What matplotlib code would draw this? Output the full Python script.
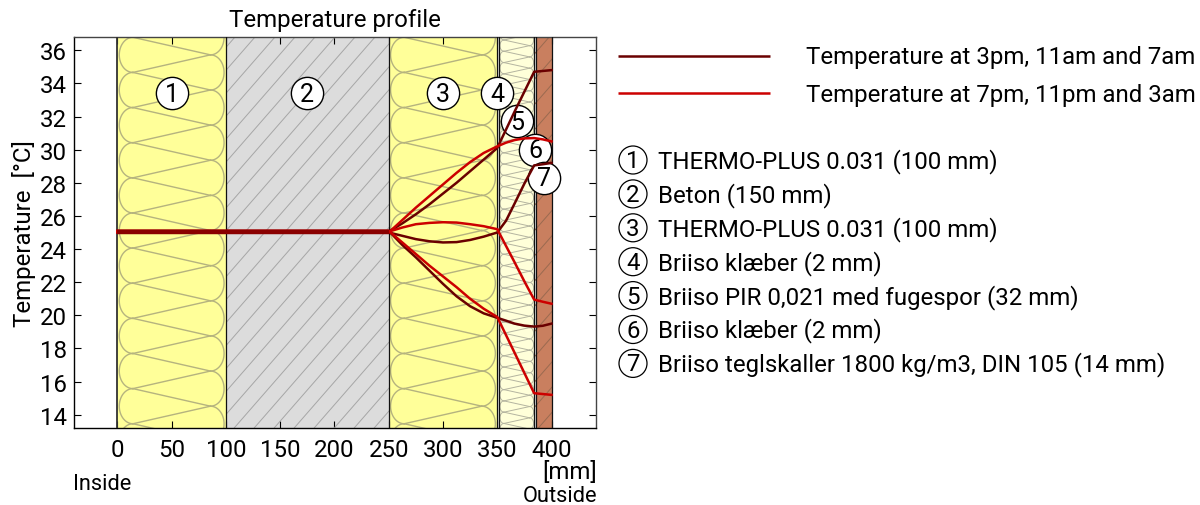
import numpy as np
import matplotlib
matplotlib.use("Agg")
import matplotlib.pyplot as plt
from matplotlib.patches import Rectangle, Circle

plt.rcParams['font.family'] = ['Roboto', 'DejaVu Sans']

# layers, mm
layer_edges = [0, 100, 250, 350, 352, 384, 386, 400]
layer_colors = ['#ffff99', '#dcdcdc', '#ffff99', '#e6e6e6', '#ffffd9', '#e6e6e6', '#c97f5f']
layer_names = ['THERMO-PLUS 0.031 (100 mm)', 'Beton (150 mm)', 'THERMO-PLUS 0.031 (100 mm)',
               'Briiso klæber (2 mm)', 'Briiso PIR 0,021 med fugespor (32 mm)',
               'Briiso klæber (2 mm)', 'Briiso teglskaller 1800 kg/m3, DIN 105 (14 mm)']

# temperature curves
x_pos = [0, 250, 262.5, 275, 287.5, 300, 312.5, 325, 337.5, 350, 358, 366, 375, 384, 392, 400]
dark_1 = [25.05, 25.05, 25.55, 26.1, 26.7, 27.35, 28.0, 28.7, 29.4, 30.1, 31.2, 32.3, 33.5, 34.7, 34.75, 34.8]
dark_2 = [25.0, 25.0, 24.8, 24.6, 24.47, 24.4, 24.42, 24.55, 24.75, 25.0, 25.7, 26.75, 27.95, 29.05, 29.12, 29.2]
dark_3 = [25.1, 25.1, 24.25, 23.5, 22.7, 21.9, 21.15, 20.55, 20.12, 19.85, 19.68, 19.5, 19.38, 19.32, 19.37, 19.5]
red_1 = [25.0, 25.0, 25.75, 26.5, 27.2, 27.9, 28.6, 29.25, 29.8, 30.2, 30.42, 30.58, 30.68, 30.7, 30.62, 30.5]
red_2 = [25.05, 25.05, 25.3, 25.5, 25.58, 25.62, 25.6, 25.5, 25.38, 25.2, 24.2, 23.2, 22.05, 20.95, 20.82, 20.7]
red_3 = [25.1, 25.1, 24.4, 23.7, 23.0, 22.35, 21.7, 21.0, 20.4, 19.9, 18.82, 17.74, 16.52, 15.3, 15.25, 15.2]

# circled numbers in the chart
circle_x = [50, 175, 300, 350, 368, 385, 393]
circle_y = [33.4, 33.4, 33.4, 33.4, 31.7, 30.0, 28.3]

y_ticks = list(range(14, 38, 2))
x_ticks = [0, 50, 100, 150, 200, 250, 300, 350, 400]

fig = plt.figure(figsize=(12, 5.06), dpi=100)
ax = fig.add_axes([74 / 1200, 1 - 429 / 506, 522 / 1200, 391 / 506])
ax.set_xlim(-40, 441)
ax.set_ylim(13.2, 36.8)
ylo, yhi = 13.2, 36.8
px_per_mm = 1.085
px_per_deg = 16.6


def insulation(a, b, period_px, inset_px, phase_px, color, lw):
    # loops with crossing diagonals, drawn between the layer edges
    period = period_px / px_per_deg
    inset = inset_px / px_per_mm
    rect = Rectangle((a, ylo), b - a, yhi - ylo, transform=ax.transData)
    top = yhi - phase_px / px_per_deg
    t = np.linspace(-np.pi / 2, np.pi / 2, 30)
    n = int((yhi - ylo) / period) + 3
    for i in range(-1, n):
        y_l = top - i * period
        y_r = y_l - period / 2
        for xn, ys, sign in ((a + inset, y_l, -1), (b - inset, y_r, 1)):
            line, = ax.plot(xn + sign * inset * 0.88 * np.cos(t), ys - period / 2 + period / 2 * np.sin(t),
                            color=color, lw=lw, zorder=2)
            line.set_clip_path(rect)
        for y2 in (y_r, y_r + period):
            line, = ax.plot([a + inset, b - inset], [y_l, y2], color=color, lw=lw, zorder=2)
            line.set_clip_path(rect)


def hatch(a, b, color, spacing_px=20):
    # diagonal lines, clipped to the layer
    rect = Rectangle((a, ylo), b - a, yhi - ylo, transform=ax.transData)
    h = (yhi - ylo) * px_per_deg
    for off in np.arange(-h, (b - a) * px_per_mm + 1, spacing_px):
        line, = ax.plot([a + off / px_per_mm, a + (off + h * 0.87) / px_per_mm], [ylo, yhi],
                        color=color, lw=0.7, zorder=2)
        line.set_clip_path(rect)


for i in range(7):
    ax.axvspan(layer_edges[i], layer_edges[i + 1], color=layer_colors[i], lw=0, zorder=1)

insulation(0, 100, 35.2, 15.5, 0.3, '#b5b37f', 1.0)
insulation(250, 350, 35.2, 15.5, 0.3, '#b5b37f', 1.0)
insulation(352, 384, 11.3, 4.5, 3, '#b4b4a0', 0.7)
hatch(100, 250, '#a6a6a6')
hatch(384, 400, '#9a6a50', 22)

for e in layer_edges:
    ax.axvline(e, color='#333333' if e == 0 else '#111111', lw=1.3 if e == 0 else 0.9, zorder=3)

ax.scatter(circle_x, circle_y, s=540, facecolor='white', edgecolor='black', linewidth=1.0, zorder=4)
for i in range(7):
    ax.text(circle_x[i], circle_y[i] - 0.03, str(i + 1), ha='center', va='center', fontsize=18, zorder=5)

for vals in (dark_1, dark_2, dark_3):
    ax.plot(x_pos, vals, color='#6a0000', lw=1.8, zorder=6)
for vals in (red_1, red_2, red_3):
    ax.plot(x_pos, vals, color='#cc0000', lw=1.8, zorder=7)
ax.plot([0, 250], [25.05, 25.05], color='#8a0000', lw=3.2, solid_capstyle='butt', zorder=8)

ax.set_xticks(x_ticks)
ax.set_yticks(y_ticks)
ax.tick_params(direction='in', top=True, right=True, length=5, width=0.8, labelsize=17.3, pad=7)
ax.tick_params(axis='y', pad=5)
ax.spines['left'].set_color('black')
ax.spines['bottom'].set_color('black')
ax.spines['top'].set_color('#444444')
ax.spines['right'].set_color('#444444')
for s in ax.spines.values():
    s.set_linewidth(1.0)
ax.set_ylabel('Temperature  [°C]', fontsize=17.3, labelpad=3)
ax.set_title('Temperature profile', fontsize=17.3, pad=8)

# text and legend in pixel positions
ov = fig.add_axes([0, 0, 1, 1], facecolor='none')
ov.set_xlim(0, 1200)
ov.set_ylim(506, 0)
ov.axis('off')
ov.text(102, 485, 'Inside', ha='center', va='center', fontsize=15.7)
ov.text(597, 473, '[mm]', ha='right', va='center', fontsize=17.3)
ov.text(597, 497, 'Outside', ha='right', va='center', fontsize=15.7)

ov.plot([618, 770], [57, 57], color='#6a0000', lw=1.8, solid_capstyle='butt')
ov.plot([618, 770], [94, 94], color='#cc0000', lw=1.8, solid_capstyle='butt')
ov.text(806, 57, 'Temperature at 3pm, 11am and 7am', va='center', fontsize=17.3)
ov.text(806, 95, 'Temperature at 7pm, 11pm and 3am', va='center', fontsize=17.3)
for i, name in enumerate(layer_names):
    y = 161 + i * 33.9
    ov.add_patch(Circle((633, y), 14, facecolor='white', edgecolor='black', lw=0.9))
    ov.text(633, y + 0.5, str(i + 1), ha='center', va='center', fontsize=17.3)
    ov.text(658, y + 0.5, name, va='center', fontsize=17.3)

fig.savefig('out.png', dpi=100)
